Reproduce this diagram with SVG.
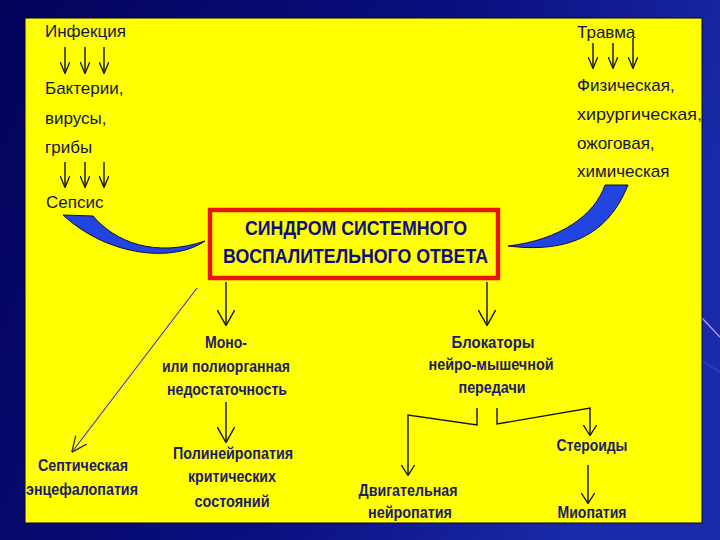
<svg xmlns="http://www.w3.org/2000/svg" width="720" height="540" viewBox="0 0 720 540">
<defs>
<linearGradient id="bg" x1="0" y1="0" x2="1" y2="0.3">
<stop offset="0" stop-color="#03035a"/>
<stop offset="0.6" stop-color="#0a0f80"/>
<stop offset="1" stop-color="#1a2aa8"/>
</linearGradient>
<marker id="sm" viewBox="0 0 12 10" refX="11.5" refY="5" markerWidth="12" markerHeight="10" markerUnits="userSpaceOnUse" orient="auto">
<path d="M0,0 L12,5 L0,10" fill="none" stroke="#111" stroke-width="1.3"/>
</marker>
<marker id="bg-ar" viewBox="0 0 16 18" refX="15.5" refY="9" markerWidth="16" markerHeight="18" markerUnits="userSpaceOnUse" orient="auto">
<path d="M0,0 L16,9 L0,18" fill="none" stroke="#111" stroke-width="1.4"/>
</marker>
<marker id="md" viewBox="0 0 11 14" refX="10.5" refY="7" markerWidth="11" markerHeight="14" markerUnits="userSpaceOnUse" orient="auto">
<path d="M0,0 L11,7 L0,14" fill="none" stroke="#111" stroke-width="1.3"/>
</marker>
<marker id="dg" viewBox="0 0 16 16" refX="15.5" refY="8" markerWidth="16" markerHeight="16" markerUnits="userSpaceOnUse" orient="auto">
<path d="M0,1 L16,8 L0,15" fill="none" stroke="#333" stroke-width="1.3"/>
</marker>
</defs>
<style>
.up{font-family:"Liberation Sans",Arial,sans-serif;font-size:17px;fill:#16163e}
.lo{font-family:"Liberation Sans",Arial,sans-serif;font-size:16px;font-weight:bold;fill:#1c1c6a;text-anchor:middle}
.bx{font-family:"Liberation Sans",Arial,sans-serif;font-size:20px;font-weight:bold;fill:#0e0e80;text-anchor:middle}
.ln{fill:none;stroke:#111;stroke-width:1.4}
.swoosh{fill:#2244e0;stroke:#0a0a40;stroke-width:1}
</style>
<rect width="720" height="540" fill="url(#bg)"/>
<line x1="702" y1="318" x2="720" y2="337" stroke="#c8a8e8" stroke-width="1.2"/>
<line x1="700" y1="360" x2="720" y2="372" stroke="#3a4ac0" stroke-width="2" opacity="0.6"/>
<rect x="25" y="18" width="677" height="505" fill="#ffff00" stroke="#00002a" stroke-width="1"/>

<g id="infection">
<text class="up" x="45" y="37">Инфекция</text>
<text class="up" x="45" y="94">Бактерии,</text>
<text class="up" x="45" y="124">вирусы,</text>
<text class="up" x="45" y="153">грибы</text>
<text class="up" x="46" y="208">Сепсис</text>
</g>
<g id="trauma">
<text class="up" x="577" y="38">Травма</text>
<text class="up" x="577" y="91">Физическая,</text>
<text class="up" x="577" y="120" textLength="125" lengthAdjust="spacingAndGlyphs">хирургическая,</text>
<text class="up" x="577" y="149">ожоговая,</text>
<text class="up" x="577" y="177">химическая</text>
</g>
<g id="sirs">
<rect x="210" y="210" width="288" height="68" fill="#ffff00" stroke="#e81414" stroke-width="4.5"/>
<text class="bx" x="356" y="235" textLength="222" lengthAdjust="spacingAndGlyphs">СИНДРОМ СИСТЕМНОГО</text>
<text class="bx" x="355.5" y="263" textLength="265" lengthAdjust="spacingAndGlyphs">ВОСПАЛИТЕЛЬНОГО ОТВЕТА</text>
</g>
<g id="mof">
<text class="lo" x="226" y="348" textLength="42" lengthAdjust="spacingAndGlyphs">Моно-</text>
<text class="lo" x="226" y="372" textLength="128" lengthAdjust="spacingAndGlyphs">или полиорганная</text>
<text class="lo" x="227" y="395" textLength="120" lengthAdjust="spacingAndGlyphs">недостаточность</text>
</g>
<g id="polyneuropathy">
<text class="lo" x="233" y="459" textLength="120" lengthAdjust="spacingAndGlyphs">Полинейропатия</text>
<text class="lo" x="232" y="482" textLength="88" lengthAdjust="spacingAndGlyphs">критических</text>
<text class="lo" x="232" y="507" textLength="75" lengthAdjust="spacingAndGlyphs">состояний</text>
</g>
<g id="encephalopathy">
<text class="lo" x="83" y="471" textLength="90" lengthAdjust="spacingAndGlyphs">Септическая</text>
<text class="lo" x="82" y="495" textLength="112" lengthAdjust="spacingAndGlyphs">энцефалопатия</text>
</g>
<g id="blockers">
<text class="lo" x="493" y="348" textLength="83" lengthAdjust="spacingAndGlyphs">Блокаторы</text>
<text class="lo" x="491" y="370" textLength="125" lengthAdjust="spacingAndGlyphs">нейро-мышечной</text>
<text class="lo" x="492" y="393" textLength="67" lengthAdjust="spacingAndGlyphs">передачи</text>
</g>
<g id="steroids">
<text class="lo" x="592" y="451" textLength="71" lengthAdjust="spacingAndGlyphs">Стероиды</text>
</g>
<g id="motor-neuropathy">
<text class="lo" x="408" y="496" textLength="99" lengthAdjust="spacingAndGlyphs">Двигательная</text>
<text class="lo" x="410" y="518" textLength="84" lengthAdjust="spacingAndGlyphs">нейропатия</text>
</g>
<g id="myopathy">
<text class="lo" x="592" y="518" textLength="69" lengthAdjust="spacingAndGlyphs">Миопатия</text>
</g>

<g id="connectors">
<path class="swoosh" d="M63,215 L93,216 C115,242 155,258 205,241 C175,262 110,258 63,215 Z"/>
<path class="swoosh" d="M605,185 L628,185 C612,225 580,255 508,246 C560,240 595,215 605,185 Z"/>
<g class="ln" marker-end="url(#sm)">
<line x1="65" y1="47" x2="65" y2="73"/>
<line x1="85" y1="47" x2="85" y2="73"/>
<line x1="104" y1="47" x2="104" y2="73"/>
<line x1="65" y1="162" x2="65" y2="187"/>
<line x1="85" y1="162" x2="85" y2="187"/>
<line x1="104" y1="162" x2="104" y2="187"/>
<line x1="593" y1="43" x2="593" y2="68"/>
<line x1="613" y1="43" x2="613" y2="68"/>
<line x1="633" y1="38" x2="633" y2="68"/>
</g>
<g class="ln" marker-end="url(#bg-ar)">
<line x1="226" y1="282" x2="226" y2="325"/>
<line x1="226" y1="402" x2="226" y2="442"/>
<line x1="487" y1="282" x2="487" y2="325"/>
</g>
<g class="ln" marker-end="url(#md)">
<polyline points="477,408 477,425 408,415 408,475"/>
<polyline points="497,408 497,424 590,408 590,435"/>
<line x1="588" y1="465" x2="588" y2="503"/>
</g>
<line x1="197" y1="288" x2="72" y2="452" stroke="#e8d890" stroke-width="2.2"/>
<line x1="197" y1="288" x2="72" y2="452" stroke="#333" stroke-width="1" marker-end="url(#dg)"/>
</g>
</svg>
